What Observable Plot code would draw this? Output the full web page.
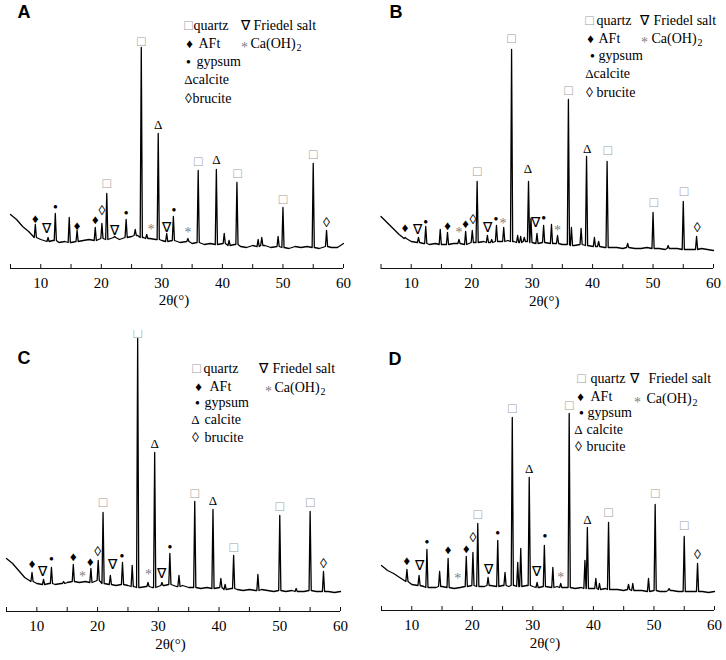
<!DOCTYPE html>
<html><head><meta charset="utf-8">
<script src="https://cdn.jsdelivr.net/npm/d3@7"></script>
<script src="https://cdn.jsdelivr.net/npm/@observablehq/plot@0.6"></script>
<style>
body{margin:0;background:#fff}
#grid{position:relative;width:726px;height:660px;overflow:hidden}
.panel{position:absolute;width:363px;height:330px}
.panel svg{font-family:'Liberation Serif','Times New Roman',serif}
</style></head><body><div id="grid"></div>
<script>
// ---- data ----
const xTicks = [10, 20, 30, 40, 50, 60];
const minorTicks = [5, 15, 25, 35, 45, 55];
const panelLetters = ["A", "B", "C", "D"];
const axisTitle = "2θ(°)";
const baseX = d3.range(5, 61); // 2θ sample positions of the background readings

const baseA = [54,49,42,37,31,29,27,28,26,27,26,27,28,29,28,30,29,31,29,31,32,33,31,30,29,28,27,28,26,27,25,26,24,25,24,25,23,24,22,21,23,22,23,21,22,21,20,22,21,22,21,20,22,21,21,25];
const baseB = [52,46,40,34,30,27,26,25,24,25,24,24,25,25,24,26,26,27,26,27,27,28,27,26,27,26,25,26,25,25,24,24,23,24,23,22,22,21,21,21,20,21,20,20,21,20,20,19,20,20,19,19,19,20,19,18];
const baseC = [53,48,41,34,30,28,27,28,27,28,29,30,29,30,29,31,28,27,26,27,26,25,24,25,24,25,26,27,25,26,24,24,23,24,23,24,22,23,22,21,22,21,22,21,20,21,20,21,20,20,21,20,20,20,19,20];
const baseD = [45,40,37,33,29,26,25,24,23,23,24,23,22,23,24,25,24,24,25,24,25,24,25,24,25,24,23,24,23,24,23,23,22,23,22,22,21,22,21,21,20,21,20,20,19,20,19,19,20,19,19,19,19,19,18,19];

// peaks: [2θ, intensity]
const peaksA = [[9.1,44],[11.2,31],[12.4,55],[14.7,51],[16.0,38],[19.0,41],[20.1,45],[20.9,75],[22.2,32],[24.1,49],[25.6,39],[26.6,221],[27.5,34],[29.4,135],[30.8,35],[31.9,52],[34.3,30],[36.0,98],[39.0,99],[40.3,35],[41.1,28],[42.4,86],[45.9,29],[46.5,31],[49.2,32],[50.0,61],[55.0,105],[57.2,38]];
const peaksB = [[9.0,31],[11.2,31],[12.4,42],[14.8,39],[16.0,36],[17.9,29],[19.0,37],[20.1,38],[20.9,87],[22.6,33],[23.3,29],[24.1,43],[25.3,41],[26.6,219],[27.6,33],[28.1,32],[28.7,31],[29.4,87],[29.8,50],[30.8,35],[31.9,43],[33.2,44],[34.2,33],[36.0,169],[36.5,41],[38.1,40],[39.0,112],[40.3,31],[41.0,27],[42.4,107],[45.8,25],[50.0,56],[52.5,23],[55.0,67],[57.2,32]];
const peaksC = [[9.2,39],[11.1,32],[12.4,44],[14.4,30],[16.0,47],[18.9,43],[20.1,51],[20.9,99],[22.1,36],[24.1,49],[25.7,46],[26.6,273],[28.3,29],[29.4,159],[30.6,29],[31.9,58],[33.4,36],[36.0,110],[39.0,102],[40.3,33],[41.0,27],[42.4,56],[46.4,37],[50.0,96],[52.7,23],[55.0,100],[57.2,40]];
const peaksD = [[9.2,41],[11.2,35],[12.5,61],[14.6,39],[16.0,52],[19.0,54],[20.1,58],[20.9,87],[22.6,33],[24.2,70],[25.4,38],[26.6,193],[27.5,48],[28.0,62],[29.4,133],[30.7,28],[31.9,65],[33.3,43],[34.6,27],[36.0,197],[38.6,50],[39.0,83],[40.4,32],[41.0,27],[42.5,88],[45.8,26],[46.5,27],[49.1,32],[50.2,106],[52.5,22],[55.0,74],[57.2,47]];

// phase labels: [phase, 2θ, intensity]
const labelsA = [["a",9.1,50],["f",11.0,40],["g",12.4,62],["a",16.0,43],["a",19.0,49],["b",20.1,58],["q",20.9,85],["f",22.2,38],["g",24.1,56],["q",26.6,227],["h",28.2,39],["c",29.4,144],["f",30.8,41],["g",32.0,59],["h",34.3,36],["q",36.0,107],["c",39.0,109],["q",42.5,95],["q",50.0,69],["q",55.0,114],["b",57.2,46]];
const labelsB = [["a",9.0,41],["f",11.1,39],["g",12.4,47],["a",16.0,43],["h",17.9,36],["a",19.0,45],["b",20.2,49],["q",20.9,97],["f",22.6,41],["g",24.0,50],["h",25.2,45],["q",26.6,230],["c",29.3,100],["f",30.6,46],["g",31.9,51],["h",34.2,38],["q",36.0,178],["c",39.1,120],["q",42.5,118],["q",50.1,66],["q",55.1,77],["b",57.3,41]];
const labelsC = [["a",9.2,48],["f",11.0,40],["g",12.4,53],["a",16.0,55],["h",17.5,35],["a",18.8,50],["b",20.0,60],["q",20.9,109],["f",22.4,47],["g",24.0,56],["q",26.6,278],["h",28.4,37],["c",29.4,168],["f",30.6,38],["g",31.9,65],["q",36.0,118],["c",39.0,111],["q",42.4,64],["q",50.0,105],["q",55.0,109],["b",57.2,48]];
const labelsD = [["a",9.2,50],["f",11.2,45],["g",12.5,69],["a",16.0,61],["h",17.6,32],["a",19.0,62],["b",20.1,73],["q",20.9,96],["f",22.6,41],["g",24.2,78],["q",26.6,202],["c",29.4,142],["f",30.6,39],["g",32.0,75],["h",34.6,33],["q",36.0,205],["c",39.0,91],["q",42.5,98],["q",50.2,117],["q",55.0,85],["b",57.2,56]];

const phaseNames = {q:"quartz", f:"Friedel salt", a:"AFt", h:"Ca(OH)", g:"gypsum", c:"calcite", b:"brucite"};

// ---- styles / layout ----
const GLYPH = {q:"□", a:"♦", g:"●", c:"Δ", b:"◊", f:"∇", h:"*"};
const GLYPH_COLOR = {q:"#9a9a9a", a:"#000", g:"#000", c:"#000", b:"#000", f:"#000", h:"#808080"};
const GLYPH_SIZE = {q:14, a:13, g:8, c:13, b:14, f:14, h:14};
const GLYPH_DY = {q:0, a:0, g:0, c:0, b:0, f:0, h:4};
const SERIF = "'Liberation Serif', 'Times New Roman', serif";
const SANS = "'Liberation Sans', Arial, sans-serif";

const layouts = [
  {left:0, top:0, x0:10, x1:343, axisY:268, titleDy:32, letter:[17,17],
   legend:[["q",188,193,25],["f",245,253,25],["a",189,198,43],["h",244,250,43],["g",188,196,61],["c",188,192,79],["b",188,192,98]]},
  {left:363, top:0, x0:17.5, x1:350, axisY:268, titleDy:33, letter:[26,17],
   legend:[["q",226,233,20],["f",281,290,20],["a",227,235,38],["h",281,288,38],["g",229,235,55],["c",226,230,73],["b",226,233,92]]},
  {left:0, top:330, x0:6, x1:340, axisY:281, titleDy:33, letter:[17,33],
   legend:[["q",196,203,38],["f",263,272,38],["a",198,209,56],["h",268,274,57],["g",197,204,72],["c",195,204,89],["b",195,204,107]]},
  {left:363, top:330, x0:18, x1:351, axisY:280, titleDy:33, letter:[25,34],
   legend:[["q",218,227,48],["f",271,285,48],["a",217,227,66],["h",274,283,68],["g",218,224,82],["c",215,223,99],["b",215,223,116]]}
];
const bases = [baseA, baseB, baseC, baseD];
const peaks = [peaksA, peaksB, peaksC, peaksD];
const labels = [labelsA, labelsB, labelsC, labelsD];

function buildPattern(base, pk) {
  const pts = [];
  baseX.forEach((x, i) => {
    if (!pk.some(p => Math.abs(p[0] - x) < 0.3)) pts.push({x, y: base[i]});
  });
  pk.forEach(([p, top]) => {
    const b = base[Math.round(p) - 5];
    pts.push({x: p - 0.18, y: b}, {x: p, y: top}, {x: p + 0.18, y: b});
  });
  pts.sort((a, b) => a.x - b.x);
  return pts;
}

const grid = document.getElementById("grid");
layouts.forEach((L, k) => {
  const W = 363, H = 330;
  const pts = buildPattern(bases[k], peaks[k]);
  const lab = labels[k].map(([s, x, y]) => ({s, x, y}));
  const leg = L.legend.map(([s, gx, tx, y]) => ({s, gx: gx - L.x0, tx: tx - L.x0, y}));
  const legendMarks = [];
  leg.forEach(d => {
    legendMarks.push(Plot.text([GLYPH[d.s]], {frameAnchor: "top-left", dx: d.gx, dy: d.y + GLYPH_DY[d.s], text: t => t, fill: GLYPH_COLOR[d.s], fontSize: GLYPH_SIZE[d.s], fontFamily: SERIF, lineAnchor: "middle", textAnchor: "middle"}));
    legendMarks.push(Plot.text([phaseNames[d.s]], {frameAnchor: "top-left", dx: d.tx, dy: d.y, text: t => t, fontSize: 14, fontFamily: SERIF, lineAnchor: "middle", textAnchor: "start"}));
    if (d.s === "h") legendMarks.push(Plot.text(["2"], {frameAnchor: "top-left", dx: d.tx + 46, dy: d.y + 4, text: t => t, fontSize: 10, fontFamily: SERIF, lineAnchor: "middle", textAnchor: "start"}));
  });
  const plot = Plot.plot({
    width: W, height: H,
    marginLeft: L.x0, marginRight: W - L.x1, marginTop: 0, marginBottom: H - L.axisY,
    style: {fontFamily: SERIF, fontSize: "15px", background: "#fff", color: "#000"},
    x: {domain: [5, 60], axis: null},
    y: {domain: [0, L.axisY], axis: null},
    marks: [
      Plot.ruleY([0], {stroke: "#111", strokeWidth: 1}),
      Plot.ruleX([...minorTicks, ...xTicks], {x: d => d, y1: 0, y2: 4, stroke: "#111", strokeWidth: 1}),
      Plot.axisX({ticks: xTicks, tickSize: 0, tickPadding: 9, fontSize: 15, fontFamily: SERIF, label: null, tickFormat: d => String(d)}),
      Plot.text([axisTitle], {frameAnchor: "bottom", dy: L.titleDy, dx: -3, text: d => d, fontSize: 15, fontFamily: SERIF, lineAnchor: "middle"}),
      Plot.line(pts, {x: "x", y: "y", stroke: "#000", strokeWidth: 1.3, strokeLinejoin: "round"}),
      Plot.text(lab, {x: "x", y: "y", text: d => GLYPH[d.s], fill: d => GLYPH_COLOR[d.s], fontSize: d => GLYPH_SIZE[d.s], dy: 0, fontFamily: SERIF, lineAnchor: "middle"}),
      ...legendMarks,
      Plot.text([panelLetters[k]], {frameAnchor: "top-left", dx: L.letter[0] - L.x0, dy: L.letter[1], text: d => d, fontSize: 18, fontWeight: "bold", fontFamily: SANS, lineAnchor: "bottom", textAnchor: "start"})
    ]
  });
  const div = document.createElement("div");
  div.className = "panel";
  div.style.left = L.left + "px";
  div.style.top = L.top + "px";
  div.appendChild(plot);
  grid.appendChild(div);
});
</script></body></html>
